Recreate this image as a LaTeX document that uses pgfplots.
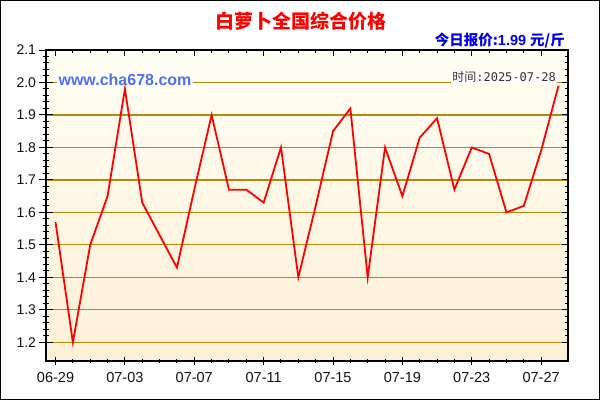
\documentclass[border=0pt]{standalone}
\usepackage{fontspec}
\setmainfont{Liberation Sans}
\newfontfamily\cjk{Noto Sans CJK SC}
\newfontfamily\mono{DejaVu Sans Mono}
\usepackage{pgfplots}
\pgfplotsset{compat=1.18}
\definecolor{gridc}{HTML}{B8860B}
\definecolor{bgtop}{HTML}{FFFEF4}
\definecolor{bgbot}{HTML}{FDF0D6}
\definecolor{webblue}{HTML}{5070F0}
\definecolor{labc}{HTML}{101020}
\pgfplotstableread{
x y
0 1.57
1 1.20
2 1.50
3 1.65
4 1.98
5 1.63
6 1.53
7 1.43
8 1.67
9 1.90
10 1.67
11 1.67
12 1.63
13 1.80
14 1.40
15 1.62
16 1.85
17 1.92
18 1.40
19 1.80
20 1.65
21 1.83
22 1.89
23 1.67
24 1.80
25 1.78
26 1.60
27 1.62
28 1.79
29 1.99
}\pricedata
\pgfplotsset{
  base/.style={at={(46pt,39pt)}, anchor=south west, scale only axis,
    width=522pt, height=311pt, xmin=-0.55, xmax=29.55, ymin=1.1425, ymax=2.1,
    tick style={black, line width=1pt}},
}
\begin{document}
\begin{tikzpicture}[x=1pt,y=1pt]
\path[use as bounding box] (0,0) rectangle (600,400);
\fill[white] (0,0) rectangle (600,400);
% axis A: background, grid, y ticks + labels
\begin{axis}[base,
  axis background/.style={shade, top color=bgtop, bottom color=bgbot, draw=none},
  axis line style={draw=none},
  xtick=\empty,
  ytick={1.2,1.3,1.4,1.5,1.6,1.7,1.8,1.9,2.0,2.1},
  yticklabels={1.2,1.3,1.4,1.5,1.6,1.7,1.8,1.9,2.0,2.1},
  minor y tick num=4,
  ytick pos=left, tick align=center,
  major tick length=13pt, minor tick length=6.5pt,
  ymajorgrids, grid style={gridc, line width=1.2pt},
  yticklabel style={font=\fontsize{14}{14}\selectfont, text=labc},
]
\end{axis}
% axis B: x ticks + labels
\begin{axis}[base,
  axis line style={draw=none},
  ytick=\empty,
  xtick={0,4,8,12,16,20,24,28},
  xticklabels={06-29,07-03,07-07,07-11,07-15,07-19,07-23,07-27},
  minor x tick num=3,
  xtick pos=bottom, tick align=center,
  major tick length=8pt, minor tick length=4pt,
  xticklabel style={font=\fontsize{14.5}{14.5}\selectfont, text=labc, yshift=-4pt},
]
\end{axis}
\node[fill=white, inner sep=1.5pt, font=\fontsize{16}{16}\selectfont\bfseries, text=webblue] at (125,320) {www.cha678.com};
\node[fill=white, inner sep=1pt, anchor=east, text=black!80, font=\fontsize{12}{12}\selectfont] at (557,323) {{\cjk 时间}{\mono :2025-07-28}};
% axis C: frame, inner ticks, data
\begin{axis}[base,
  axis line style={black, line width=1.5pt},
  xtick={0,4,8,12,16,20,24,28},
  minor x tick num=3,
  ytick={1.2,1.3,1.4,1.5,1.6,1.7,1.8,1.9,2.0,2.1},
  minor y tick num=4,
  xtick pos=top, ytick pos=right, tick align=inside,
  major tick length=6pt, minor tick length=3pt,
  xticklabels={}, yticklabels={}, clip=false,
]
\addplot[red, line width=1.8pt, mark=none] table[x=x, y=y] {\pricedata};
\end{axis}
\node[text=red, font=\fontsize{19}{19}\selectfont\cjk\bfseries] at (300.5,379) {白萝卜全国综合价格};
\node[anchor=east, text=blue!90!black, font=\fontsize{14.5}{14.5}\selectfont\bfseries, inner sep=0pt] at (565,359) {{\cjk 今日报价:}1.99 {\cjk 元/斤}};
\draw[black, line width=1.2pt] (0.6,0.6) rectangle (599.4,399.4);
\end{tikzpicture}
\end{document}
